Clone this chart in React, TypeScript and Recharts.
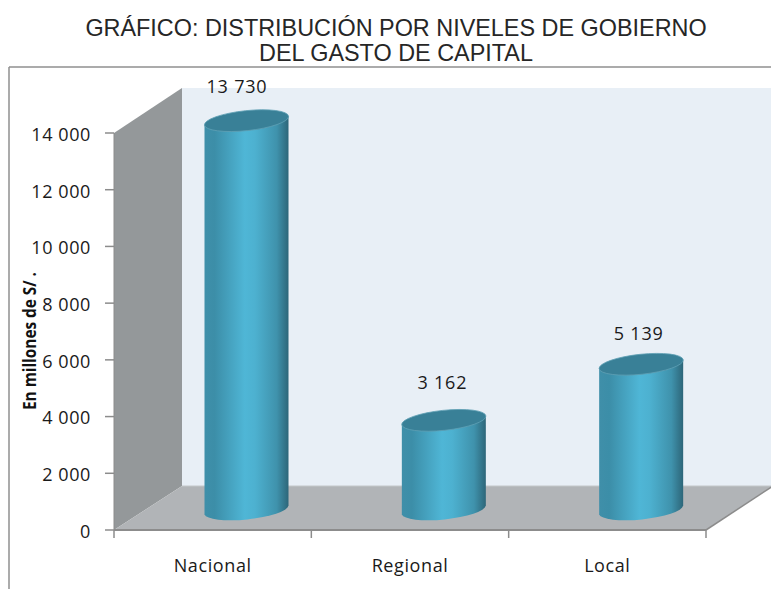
import { Bar, BarChart, LabelList, XAxis, YAxis } from 'recharts';

const categories = ['Nacional', 'Regional', 'Local'];
const gasto = [13730, 3162, 5139];
const yTicks = [0, 2000, 4000, 6000, 8000, 10000, 12000, 14000];
const titleLines = ['GRÁFICO: DISTRIBUCIÓN POR NIVELES DE GOBIERNO', 'DEL GASTO DE CAPITAL'];

const data = categories.map((nivel, i) => ({ nivel, gasto: gasto[i] }));

const W = 771;
const H = 589;
const LEFT = 114;
const RIGHT = 706;
const TOP = 133;
const BOTTOM = 530;
// depth of the fake 3D box, and how far into it the cylinders stand
const DEPTH_X = 68;
const DEPTH_Y = 44;
const BAR_DX = 34;
const BAR_DY = -20;
// the original labels were placed by hand, not quite evenly
const LABEL_NUDGE_X = [-5, 3, 2];
const LABEL_NUDGE_Y = [0, -3, 4];

const AXIS_GREY = '#8c8c8c';
const NUM_FONT = '"Open Sans", sans-serif';

// 13730 -> "13 730"
const fmt = (v: number) => (v === 0 ? '0' : `${Math.floor(v / 1000)} ${String(v % 1000).padStart(3, '0')}`);

function Scene() {
  const backX = LEFT + DEPTH_X;
  const backBottom = BOTTOM - DEPTH_Y;
  const backTop = TOP - DEPTH_Y - 1;
  const step = (RIGHT - LEFT) / 3;
  return (
    <g>
      <line x1={9} y1={67} x2={W} y2={67} stroke="#8f8f8f" strokeWidth={1.5} />
      <line x1={9} y1={67} x2={9} y2={H} stroke="#8f8f8f" strokeWidth={1.5} />
      <rect x={backX} y={backTop} width={W - backX} height={backBottom - backTop} fill="#e8eff6" />
      <polygon
        points={`${LEFT},${TOP} ${backX},${backTop} ${backX},${backBottom} ${LEFT},${BOTTOM}`}
        fill="#94989a"
      />
      <polygon
        points={`${LEFT},${BOTTOM} ${backX},${backBottom} ${W + 2},${backBottom} ${RIGHT},${BOTTOM}`}
        fill="#b1b4b7"
      />
      <line x1={backX} y1={backBottom} x2={W} y2={backBottom} stroke="#c4c7ca" strokeWidth={1} />
      <line x1={LEFT} y1={BOTTOM} x2={RIGHT} y2={BOTTOM} stroke={AXIS_GREY} strokeWidth={2} />
      <line x1={RIGHT} y1={BOTTOM} x2={W + 2} y2={backBottom} stroke={AXIS_GREY} strokeWidth={1.5} />
      {[0, 1, 2, 3].map((i) => (
        <line
          key={i}
          x1={LEFT + step * i}
          y1={BOTTOM}
          x2={LEFT + step * i}
          y2={BOTTOM + 8}
          stroke={AXIS_GREY}
          strokeWidth={1.5}
        />
      ))}
      {titleLines.map((t, i) => (
        <text
          key={t}
          x={396}
          y={36 + i * 25}
          textAnchor="middle"
          fontFamily='"Liberation Sans", Arial, sans-serif'
          fontSize={23.4}
          fill="#262626"
        >
          {t}
        </text>
      ))}
      <text
        transform="translate(36,341) rotate(-90)"
        textAnchor="middle"
        fontFamily={NUM_FONT}
        fontWeight={700}
        fontSize={17}
        textLength={138}
        lengthAdjust="spacingAndGlyphs"
        fill="#111"
      >
        En millones de S/ .
      </text>
    </g>
  );
}

function Cylinder(props: any) {
  const { x, y, width, height } = props;
  const left = x + BAR_DX - 0.5;
  const right = left + width;
  const cx = left + width / 2;
  const top = y + BAR_DY;
  const bot = top + height;
  const rx = width / 2 + 0.3;
  const ry = 10;
  const tilt = 4.4;
  return (
    <g>
      <path
        d={`M${left},${top + tilt} L${left},${bot + tilt} A${rx},${ry} -6 0 0 ${right},${bot - tilt} L${right},${top - tilt} Z`}
        fill="url(#cylBody)"
      />
      <ellipse
        cx={cx}
        cy={top}
        rx={rx}
        ry={ry}
        transform={`rotate(-6 ${cx} ${top})`}
        fill="#398097"
        stroke="#5f9fb3"
        strokeWidth={0.8}
      />
    </g>
  );
}

function ValueLabel(props: any) {
  const { x, y, width, value, index } = props;
  return (
    <text
      x={x + width / 2 + 29 + LABEL_NUDGE_X[index]}
      y={y - 48 + LABEL_NUDGE_Y[index]}
      textAnchor="middle"
      fontFamily={NUM_FONT}
      fontSize={18}
      letterSpacing={0.8}
      fill="#1a1a1a"
    >
      {fmt(value)}
    </text>
  );
}

export default function App() {
  return (
    <div style={{ position: 'absolute', left: 0, top: 0, width: W, height: H, background: '#fff' }}>
      <BarChart
        width={W}
        height={H}
        data={data}
        margin={{ top: TOP, right: W - RIGHT, bottom: 0, left: 0 }}
        barSize={84}
      >
        <defs>
          <linearGradient id="cylBody" x1="0" y1="0" x2="1" y2="0">
            <stop offset="0%" stopColor="#3f8fa9" />
            <stop offset="12%" stopColor="#3c8ea8" />
            <stop offset="48%" stopColor="#4fb6d6" />
            <stop offset="60%" stopColor="#4db1d0" />
            <stop offset="86%" stopColor="#3f92ac" />
            <stop offset="100%" stopColor="#2d6679" />
          </linearGradient>
        </defs>
        <Scene />
        <XAxis
          dataKey="nivel"
          height={H - BOTTOM}
          axisLine={false}
          tickLine={false}
          tickMargin={23}
          tick={{ fontFamily: NUM_FONT, fontSize: 18, letterSpacing: 0.6, fill: '#1a1a1a' }}
        />
        <YAxis
          width={LEFT}
          domain={[0, 14000]}
          ticks={yTicks}
          tickFormatter={fmt}
          interval={0}
          axisLine={{ stroke: AXIS_GREY }}
          tickLine={{ stroke: AXIS_GREY, strokeWidth: 1.5 }}
          tickSize={9}
          tickMargin={14}
          tick={{ fontFamily: NUM_FONT, fontSize: 18, letterSpacing: 0.6, dy: 1.5, fill: '#1a1a1a' }}
        />
        <Bar dataKey="gasto" shape={Cylinder} isAnimationActive={false}>
          <LabelList dataKey="gasto" content={ValueLabel} />
        </Bar>
      </BarChart>
    </div>
  );
}
